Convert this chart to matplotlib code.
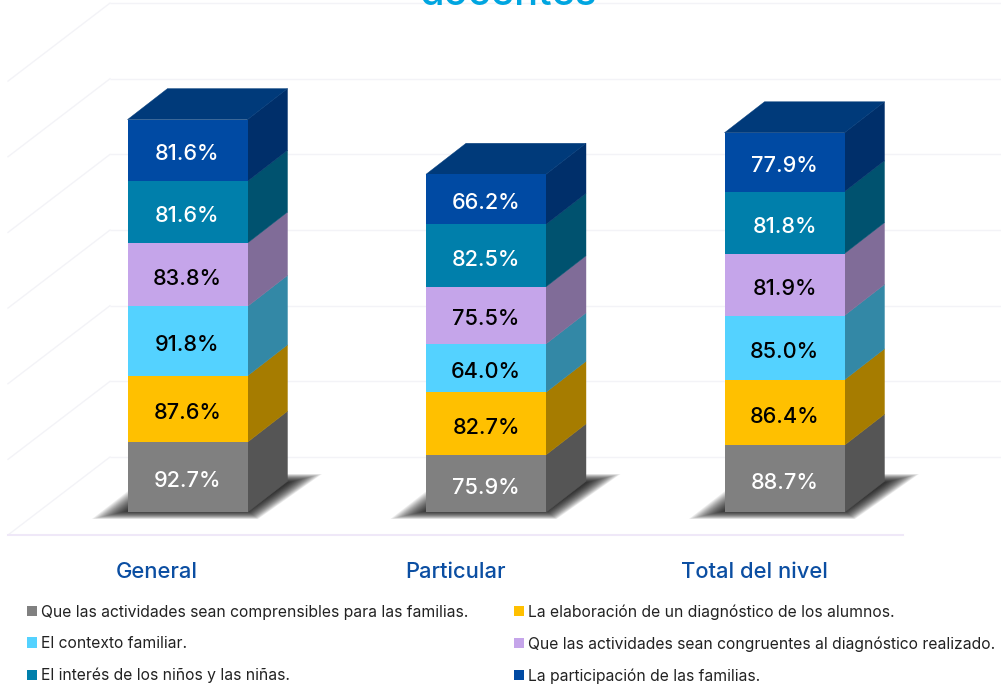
import matplotlib
matplotlib.use("Agg")
import matplotlib.pyplot as plt
from matplotlib.patches import Polygon, Patch

plt.rcParams['font.family'] = ['Inter', 'DejaVu Sans']

categories = ["General", "Particular", "Total del nivel"]
series_names = [
    "Que las actividades sean comprensibles para las familias.",
    "La elaboración de un diagnóstico de los alumnos.",
    "El contexto familiar.",
    "Que las actividades sean congruentes al diagnóstico realizado.",
    "El interés de los niños y las niñas.",
    "La participación de las familias.",
]
comprensibles = [92.7, 75.9, 88.7]
diagnostico = [87.6, 82.7, 86.4]
contexto = [91.8, 64.0, 85.0]
congruentes = [83.8, 75.5, 81.9]
interes = [81.6, 82.5, 81.8]
participacion = [81.6, 66.2, 77.9]
series = [comprensibles, diagnostico, contexto, congruentes, interes, participacion]
gridlines = [0, 100, 200, 300, 400, 500, 600]

front = ["#808080", "#FFC000", "#54D2FF", "#C5A5EA", "#007FAB", "#004AA3"]
side = ["#555555", "#A67C00", "#3388A6", "#806C98", "#00526F", "#002F6A"]
top_col = "#003A7A"
label_col = ["white", "black", "black", "black", "white", "white"]

W, H = 1001, 692
fig = plt.figure(figsize=(W / 100, H / 100), dpi=100)
ax = fig.add_axes([0, 0, 1, 1])
# layout: category spacing and value scale in pixels
PX_CAT, PX0_CAT = 298.5, 187.5
PX_VAL, PY_BASE = 0.7565, 512.3
ax.set_xlim(-PX0_CAT / PX_CAT, (W - PX0_CAT) / PX_CAT)
ax.set_ylim((PY_BASE - H) / PX_VAL, PY_BASE / PX_VAL)
ax.axis("off")

bar_w = 120 / PX_CAT
dx, dy = 40 / PX_CAT, 31 / PX_VAL
px = lambda p: (p - PX0_CAT) / PX_CAT
py = lambda p: (PY_BASE - p) / PX_VAL

# back wall and floor grid
grid_c = "#F3F3F7"
for v in gridlines:
    yb = py(457) + v
    ax.plot([px(110), px(1001)], [yb, yb], color=grid_c, lw=1.0, zorder=1, solid_capstyle="butt")
    ax.plot([px(8), px(110)], [yb - 78 / PX_VAL, yb], color=grid_c, lw=1.0, zorder=1)
ax.plot([px(8), px(903)], [py(535), py(535)], color="#EFE8F8", lw=1.5, zorder=1.5)

# soft shadow: layers that shrink from the outer shape to the dark core
outer = [(92, 519), (258, 519), (322, 474), (150, 474)]
inner = [(128, 511), (248, 511), (290, 482), (170, 482)]
LAYERS = 20
for i in range(len(categories)):
    xl, xr = i - bar_w / 2, i + bar_w / 2
    oxp = i * PX_CAT
    for k in range(LAYERS):
        f = k / (LAYERS - 1)
        pts = [(px(a0 + (a1 - a0) * f + oxp), py(b0 + (b1 - b0) * f))
               for (a0, b0), (a1, b1) in zip(outer, inner)]
        ax.add_patch(Polygon(pts, closed=True, facecolor="#000000", alpha=0.07, lw=0, zorder=2))
    bottom = 0
    for s, vals in enumerate(series):
        v = vals[i]
        t = bottom + v
        ax.bar(i, v, bottom=bottom, width=bar_w, color=front[s], lw=0, zorder=4)
        ax.add_patch(Polygon([(xr, bottom), (xr + dx, bottom + dy), (xr + dx, t + dy), (xr, t)],
                             closed=True, facecolor=side[s], edgecolor=side[s], lw=0.3, zorder=3))
        ax.text(i, bottom + v / 2 - 2 / PX_VAL, f"{v:.1f}%", ha="center", va="center_baseline",
                color=label_col[s], fontsize=15.6, fontweight="medium", zorder=6)
        bottom = t
    ax.add_patch(Polygon([(xl, bottom), (xr, bottom), (xr + dx, bottom + dy), (xl + dx, bottom + dy)],
                         closed=True, facecolor=top_col, edgecolor=top_col, lw=0.3, zorder=3.5))
    ax.annotate(categories[i], (i, 0), xytext=(-30.3 * 0.72, -58 * 0.72), textcoords="offset points",
                ha="center", va="center_baseline", color="#0B4EA2", fontsize=15.8, fontweight="medium")

# title clipped by the top edge, as in the reference
fig.text(508 / W, 1 - 5 / H, "docentes", ha="center", va="baseline", fontsize=28.7,
         color="#00A5E0", fontweight="medium")

handles = [Patch(facecolor=front[s], edgecolor="none", label=series_names[s]) for s in [0, 2, 4, 1, 3, 5]]
leg = fig.legend(handles=handles, ncol=2, frameon=False, loc="upper left",
                 bbox_to_anchor=(27 / W, 1 - 604 / H), fontsize=11.3, handlelength=0.64,
                 handleheight=0.64, handletextpad=0.28, labelspacing=1.06, columnspacing=2.85,
                 borderpad=0, borderaxespad=0, labelcolor="#222222")
fig.savefig("out.png", dpi=100)
